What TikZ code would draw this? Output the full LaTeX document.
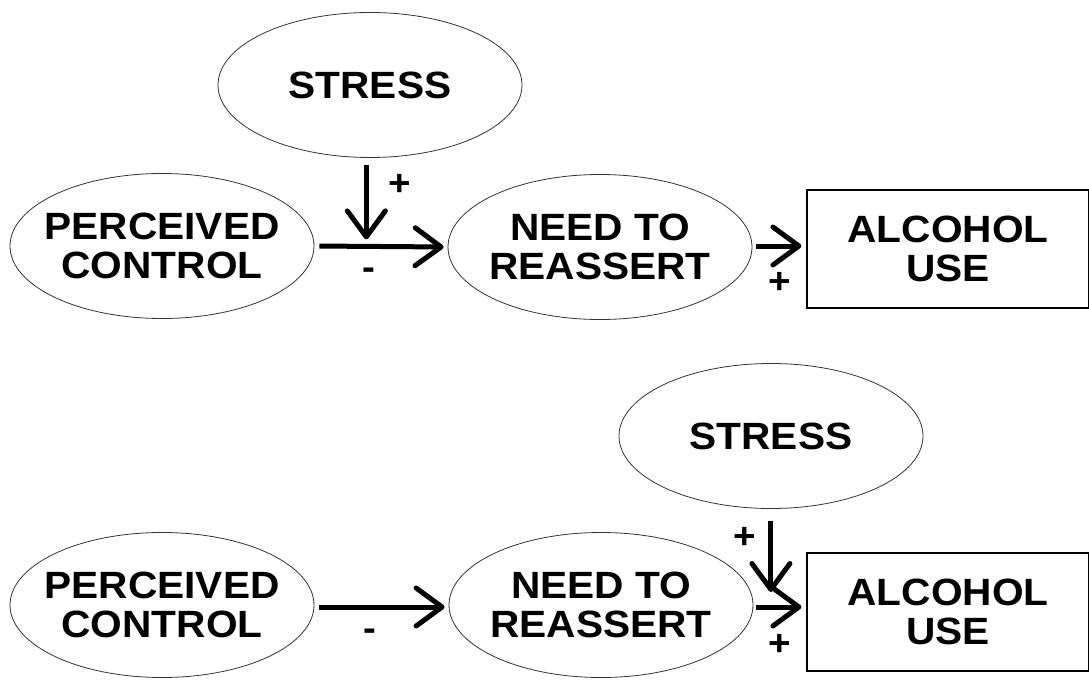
\documentclass[tikz,border=0pt]{standalone}
\usepackage{fontspec}
\setmainfont{Liberation Sans}[FakeStretch=1.07]
\usetikzlibrary{shapes.geometric,arrows.meta,positioning}

\begin{document}
\begin{tikzpicture}[x=1pt,y=-1pt,
    oval/.style={draw=black!80,line width=0.8pt,ellipse,minimum width=304pt,minimum height=145pt,inner sep=0pt},
    box/.style={draw,line width=1.2pt,rectangle,minimum width=282pt,minimum height=118pt,inner sep=0pt},
    word/.style={font=\fontsize{38}{39}\selectfont\bfseries,align=center,inner sep=0pt},
    sign/.style={font=\fontsize{36}{38}\selectfont\bfseries,inner sep=0pt},
    conn/.style={line width=5pt,-{Straight Barb[length=26pt,width=38pt,round]}}]
    \useasboundingbox (0,0) rectangle (1089,680);

    % first model: stress acts on the first path
    \node[oval,label={[word]center:STRESS}] (st1) at (370,85) {};
    \node[oval,label={[word]center:{PERCEIVED\\CONTROL}}] (pc1) at (162,246) {};
    \node[oval,label={[word]center:{NEED TO\\REASSERT}}] (nr1) at (600,247) {};
    \node[box,word] (al1) at (948,249) {ALCOHOL\\USE};

    \draw[conn,shorten <=5pt,shorten >=4pt] (pc1.east) -- (nr1.west)
        coordinate[pos=0.39] (j1) node[sign,pos=0.41,yshift=-27pt] (neg1) {-};
    \draw[conn,shorten <=7pt,shorten >=7pt] (j1 |- st1.south) -- (j1)
        node[sign,pos=0.3,xshift=33pt] (pos1) {+};
    \draw[conn,shorten <=4pt,shorten >=5pt] (nr1.east |- 0,246) -- (al1.west |- 0,246)
        node[sign,pos=0.5,yshift=-37pt] (pos2) {+};

    % second model: stress acts on the second path
    \node[oval,label={[word]center:STRESS}] (st2) at (771,436) {};
    \node[oval,label={[word]center:{PERCEIVED\\CONTROL}}] (pc2) at (162,605) {};
    \node[oval,label={[word]center:{NEED TO\\REASSERT}}] (nr2) at (601,605) {};
    \node[box,word] (al2) at (948,612) {ALCOHOL\\USE};

    \draw[conn,shorten <=5pt,shorten >=4pt] (pc2.east |- 0,607) -- (nr2.west |- 0,607)
        node[sign,pos=0.41,yshift=-28pt] (neg2) {-};
    \draw[conn,shorten <=3pt,shorten >=5pt] (nr2.east |- 0,607) -- (al2.west |- 0,607)
        coordinate[pos=0.33] (j2) node[sign,pos=0.5,yshift=-38pt] (pos4) {+};
    \draw[conn,shorten <=12pt,shorten >=15pt] (j2 |- st2.south) -- (j2)
        node[sign,pos=0.3,xshift=-26pt] (pos3) {+};
\end{tikzpicture}
\end{document}
